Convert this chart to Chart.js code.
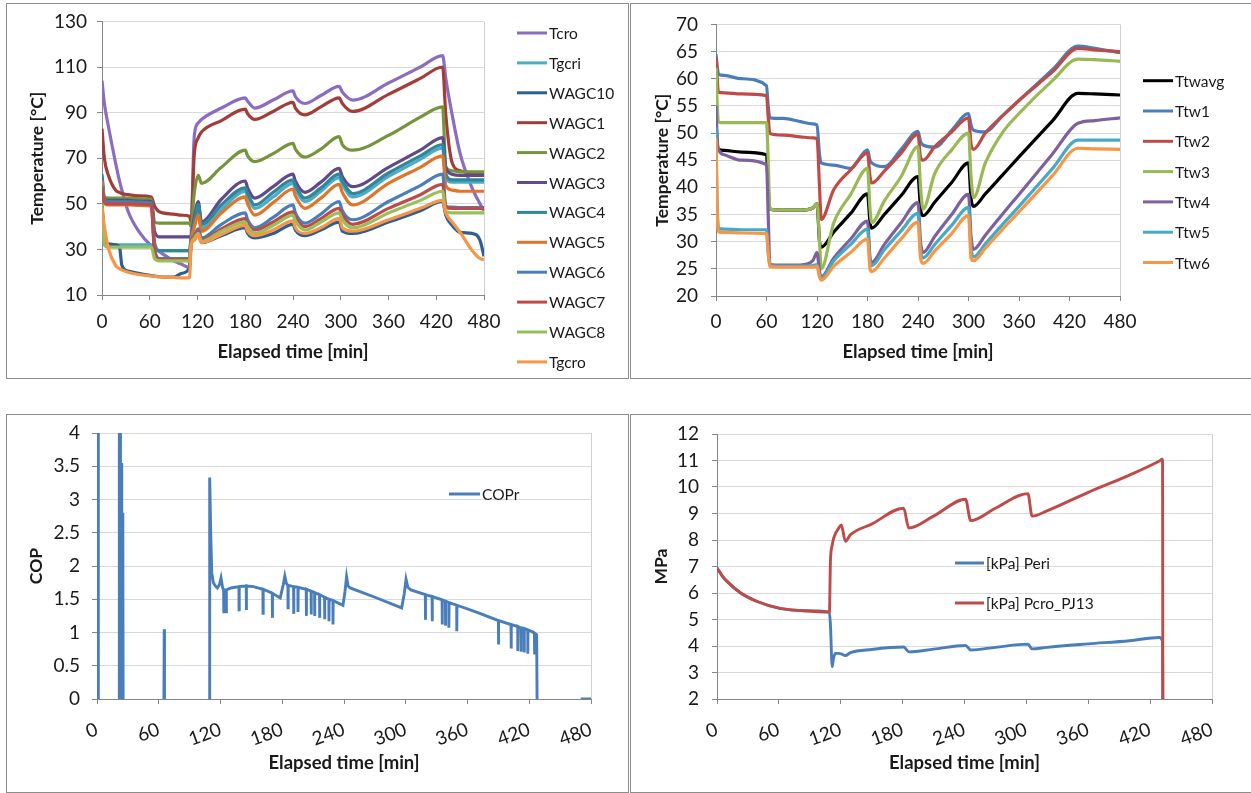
<!DOCTYPE html>
<html>
<head>
<meta charset="utf-8">
<script src="https://cdn.jsdelivr.net/npm/chart.js@4.4.0/dist/chart.umd.min.js"></script>
<style>
  body { margin: 0; background: #fff; }
  #page { position: relative; width: 1251px; height: 793px; overflow: hidden; background: #fff; }
  canvas { position: absolute; }
  .box { position: absolute; border: 1px solid #8c8c8c; box-sizing: border-box; }
</style>
</head>
<body>
<div id="page">
  <canvas id="c1" width="628" height="380" style="left:0;top:0"></canvas>
  <canvas id="c2" width="622" height="380" style="left:629px;top:0"></canvas>
  <canvas id="c3" width="628" height="388" style="left:0;top:405px"></canvas>
  <canvas id="c4" width="622" height="388" style="left:629px;top:405px"></canvas>
  <div class="box" style="left:6px;top:3px;width:623px;height:376px"></div>
  <div class="box" style="left:630px;top:3px;width:700px;height:376px"></div>
  <div class="box" style="left:6px;top:414px;width:623px;height:379px"></div>
  <div class="box" style="left:630px;top:414px;width:700px;height:379px"></div>
</div>
<script>
// ---- top left: gas cooler temperatures ----
const time1 = [0, 3, 8, 17, 22, 25, 33, 46, 62, 66, 72, 90, 100, 110, 112, 116, 121, 125, 150, 180, 183, 192, 215, 240, 243, 255, 275, 298, 302, 315, 360, 400, 428, 432, 440, 450, 465, 475, 480];
const names1 = ['Tcro', 'Tgcri', 'WAGC10', 'WAGC1', 'WAGC2', 'WAGC3', 'WAGC4', 'WAGC5', 'WAGC6', 'WAGC7', 'WAGC8', 'Tgcro'];
const colors1 = ['#8B6DBF', '#4BACC6', '#2E5E92', '#A33D3A', '#77933C', '#604A8C', '#31869B', '#E0752A', '#4A7EBB', '#BE4B48', '#98C05A', '#F79646'];
const tcro = [104, 94, 84, 68, 60, 56, 46.5, 38, 31.5, 30.5, 29, 25, 23.5, 22, 35, 80, 85.5, 87, 92, 96.5, 95, 92, 95.5, 99.5, 97, 94, 97.5, 101.5, 99, 95.5, 103, 110, 115, 105, 89, 72, 57, 50, 47];
const tgcri = [52, 33, 32, 32, 32, 32, 32, 32, 32, 29.5, 29.5, 29.5, 29.5, 29.5, 35, 40, 47, 39.5, 47.5, 55.5, 53, 48, 53, 59, 56.5, 51, 55.5, 61.5, 58.5, 53, 62, 69.5, 74.5, 61, 59.5, 59.5, 59.5, 59.5, 59.5];
const wagc10 = [50, 34, 32.5, 32, 31, 23, 20.5, 19.5, 18.5, 18.3, 18, 17.8, 19.5, 22, 33, 35, 37, 33, 36, 39.5, 37, 35, 37, 41, 38.5, 36, 38.5, 42, 38, 37, 42, 47, 51, 45, 40.5, 37.5, 37, 34, 27];
const wagc1 = [83, 70, 62.5, 56, 55, 54.5, 54, 53.5, 53, 49, 46.5, 45.5, 45, 44.5, 42, 72, 79, 81.5, 86.5, 91.5, 89.5, 87, 90.5, 94.5, 92, 89, 92.5, 96.5, 94, 90.5, 98, 105, 110, 89, 68, 64.5, 63.5, 63, 63];
const wagc2 = [62, 53, 52.5, 52.5, 52.5, 52.5, 52.5, 52.3, 52, 42, 41.5, 41.5, 41.5, 41.5, 40, 55, 62.5, 59, 66, 73.5, 71, 68.5, 72, 76.5, 74, 70.5, 74, 79.5, 76, 73.5, 80, 88, 92.5, 66, 64.5, 64, 64, 64, 64];
const wagc3 = [60, 52, 51.5, 51.5, 51.5, 51.5, 51.5, 51.2, 51, 38, 35.5, 35.5, 35.5, 35.5, 36, 44, 51, 42, 52, 60, 57, 52.5, 57.5, 63, 60, 55, 59.5, 65.5, 62, 57.5, 66, 73.5, 79, 66, 63, 62.5, 62.5, 62.5, 62.5];
const wagc4 = [63, 52, 51, 51, 51, 51, 51, 50.8, 50.5, 33, 29.5, 29.5, 29.5, 29.5, 35, 42, 49.5, 41, 49.5, 57, 54.5, 49.5, 55, 60.5, 58, 52.5, 57, 63, 60, 54.5, 63.5, 71, 76, 63, 60.5, 60.5, 60.5, 60.5, 60.5];
const wagc5 = [60, 50, 49.5, 49.5, 49.5, 49.5, 49.5, 49.3, 49, 30, 26, 26, 26, 26, 34, 40, 45, 38, 46, 53, 50, 45, 50.5, 56.5, 53.5, 48, 52.5, 58.5, 55, 49.5, 59, 66, 71, 58, 56, 55.5, 55.5, 55.5, 55.5];
const wagc6 = [58, 51, 50.5, 50.5, 50.5, 50.5, 50.5, 50.3, 50, 30, 26, 26, 26, 26, 33, 36, 39, 35, 41, 46, 43, 39.5, 44, 49.5, 46, 41.5, 45.5, 51, 47, 43, 51, 58, 63, 49, 48.5, 48.3, 48.3, 48.3, 48.3];
const wagc7 = [57, 50.5, 50, 50, 50, 50, 50, 49.8, 49.5, 29, 25.5, 25.5, 25.5, 25.5, 33, 35.5, 38, 34, 39, 43.5, 41, 38.5, 42, 46.5, 44, 40, 43.5, 48, 45, 41, 48, 54, 58.5, 48.5, 48, 48, 48, 48, 48];
const wagc8 = [50, 32, 31, 31, 31, 31, 31, 31, 31, 26, 25, 25, 25, 25, 32, 35, 37, 33.5, 38, 42, 40, 37, 40.5, 45, 42.5, 38.5, 42, 46, 43, 39.5, 46, 51.5, 55.5, 46.5, 46, 46, 46, 46, 46];
const tgcro = [48, 40, 30.5, 23, 21.5, 21, 20, 19, 18.3, 18.2, 18, 17.7, 17.5, 17.5, 32, 34, 36.5, 33, 36.5, 40.5, 38, 36, 38.5, 42.5, 39.5, 37, 39.5, 43.5, 39.5, 38, 43, 48, 51.5, 46, 42, 37.5, 29.5, 26, 25.5];

// ---- top right: water temperatures ----
const time2 = [0, 1, 3, 10, 30, 60, 62, 64, 80, 100, 115, 120, 123, 125, 140, 160, 180, 183, 185, 200, 220, 240, 243, 246, 260, 280, 300, 303, 306, 320, 340, 360, 400, 430, 450, 480];
const names2 = ['Ttwavg', 'Ttw1', 'Ttw2', 'Ttw3', 'Ttw4', 'Ttw5', 'Ttw6'];
const colors2 = ['#000000', '#4A7EBB', '#BE4B48', '#98B954', '#7D60A0', '#46AAC5', '#F79646'];
const ttwavg = [55, 49, 47, 46.8, 46.5, 46, 40, 36, 35.8, 35.8, 36.2, 37, 30, 29, 31.8, 35.2, 38.8, 33.5, 32.5, 35, 38.5, 42, 36, 34.8, 37.3, 40.9, 44.5, 38, 36.5, 38.8, 42.2, 45.6, 52.3, 57.3, 57.2, 57];
const ttw1 = [64.5, 63, 60.8, 60.6, 60, 58.7, 55, 52.8, 52.7, 52.1, 51.7, 51.5, 46, 44.5, 44.1, 43.5, 46.9, 45, 44.5, 43.8, 47, 50.3, 48.5, 47.8, 47.4, 50.5, 53.6, 51.5, 50.5, 50.2, 53.1, 56, 61.7, 66, 65.6, 64.8];
const ttw2 = [64, 61, 57.5, 57.4, 57.2, 56.9, 53, 49.9, 49.6, 49.3, 49.1, 49, 40, 34.1, 39.6, 43.2, 46.3, 42, 40.8, 43, 46.3, 49.8, 45.5, 45, 47.5, 50.2, 52.8, 48, 47, 50, 53.1, 56, 61.3, 65.6, 65.3, 65];
const ttw3 = [62, 57, 52, 51.9, 51.9, 51.9, 45, 36, 35.8, 35.8, 36.2, 37, 30, 25, 33.5, 38.7, 43.5, 36, 33.5, 37.5, 42, 47.5, 40, 36, 42.6, 46.9, 50, 42, 38.1, 44.5, 50, 53.6, 59.7, 63.6, 63.5, 63.2];
const ttw4 = [55, 50, 47, 46, 45, 44.2, 35, 25.8, 25.7, 25.7, 26.5, 28, 24.5, 23.5, 27, 30.5, 33.8, 27, 26.2, 29.5, 33.5, 37.2, 30, 28, 31, 35, 38.7, 31, 28.6, 31.2, 35, 38.7, 46.2, 51.8, 52.3, 52.8];
const ttw5 = [51, 40, 32.4, 32.3, 32.2, 32.2, 28, 25.6, 25.5, 25.5, 25.6, 25.8, 24, 23.3, 26.5, 29.5, 32.3, 26.5, 25.6, 28.5, 32, 35.2, 28.5, 27, 29.5, 33, 36.3, 29, 27.2, 29.6, 33.1, 36.5, 43.5, 48.7, 48.7, 48.7];
const ttw6 = [49, 38, 31.8, 31.7, 31.6, 31.5, 28, 25.4, 25.3, 25.3, 25.3, 25.5, 23.5, 22.9, 25.5, 28, 30.5, 25, 24.5, 27, 30.5, 33.6, 27, 26, 28.3, 31.5, 34.8, 27, 26.5, 28.8, 32.2, 35.5, 42.2, 47.2, 47.1, 47];

// ---- bottom left: COP (null = no value) ----
const copTime = [1.0, 1.3, 1.6, 21.5, 21.7, 22.6, 22.8, 23.7, 23.9, 24.2, 24.9, 25.1, 25.4, 25.6, 65.0, 65.3, 65.6, 65.8,
  109.0, 109.5, 110.5, 111.5, 113, 115, 117, 119, 120.5, 122, 123, 123.1, 123.3, 125.5, 125.6, 125.8, 130,
  137.9, 138, 138.2, 145, 145.1, 145.3, 152, 161.2, 161.3, 161.5, 170.3, 170.4, 170.6, 178, 181, 182.5, 184,
  185.5, 185.6, 185.8, 191, 191.1, 191.3, 195.2, 195.3, 195.5, 203.3, 203.4, 203.6, 208, 208.1, 208.3,
  211.4, 211.5, 211.7, 216.2, 216.3, 216.5, 221.1, 221.2, 221.4, 225.3, 225.4, 225.6, 229.2, 229.3, 229.5,
  239, 241, 242.5, 244, 246, 270, 296, 298.5, 300.3, 302, 305, 319, 319.1, 319.3, 325.6, 325.7, 325.9,
  335.3, 335.4, 335.6, 338.5, 338.6, 338.8, 341.8, 341.9, 342.1, 349.5, 349.6, 349.8, 370, 390, 390.1, 390.3,
  402.3, 402.4, 402.6, 408.8, 408.9, 409.1, 412, 412.1, 412.3, 415, 415.1, 415.3, 418.5, 418.6, 418.8,
  422, 425, 425.1, 425.3, 427, 427.1, 427.3, 427.6, 428, 470, 480];
const copValue = [0, 4.3, null, 0, 4.3, 4.3, 0, 0, 3.55, 0, 0, 2.8, 0, null, 0, 1.05, 0, null,
  0, 3.33, 2.5, 1.9, 1.75, 1.7, 1.67, 1.72, 1.82, 1.68, 1.64, 1.29, 1.64, 1.64, 1.29, 1.64, 1.67,
  1.69, 1.34, 1.69, 1.7, 1.34, 1.7, 1.69, 1.65, 1.29, 1.65, 1.59, 1.22, 1.59, 1.52, 1.72, 1.85, 1.74,
  1.71, 1.37, 1.71, 1.69, 1.28, 1.69, 1.68, 1.31, 1.68, 1.65, 1.25, 1.65, 1.62, 1.27, 1.62,
  1.6, 1.25, 1.6, 1.57, 1.22, 1.57, 1.53, 1.2, 1.53, 1.5, 1.17, 1.5, 1.48, 1.12, 1.48,
  1.41, 1.62, 1.84, 1.7, 1.67, 1.53, 1.37, 1.58, 1.8, 1.68, 1.64, 1.57, 1.19, 1.57, 1.54, 1.17, 1.54,
  1.49, 1.12, 1.49, 1.47, 1.1, 1.47, 1.45, 1.07, 1.45, 1.41, 1.02, 1.41, 1.3, 1.18, 0.82, 1.18,
  1.12, 0.76, 1.12, 1.09, 0.72, 1.09, 1.07, 0.71, 1.07, 1.06, 0.7, 1.06, 1.04, 0.68, 1.04,
  1.02, 0.99, 0.67, 0.99, 0.97, 0.67, 0.97, 0, null, 0, 0];

// ---- bottom right: pressures ----
const time4 = [0, 5, 10, 23, 39, 60, 84, 109, 110, 111.7, 113, 115, 118, 120.5, 124.5, 129.5, 150, 181, 186, 210, 241, 246, 270, 301.5, 305.5, 320, 360, 400, 429, 432, 432.5, 480];
const names4 = ['[kPa] Peri', '[kPa] Pcro_PJ13'];
const colors4 = ['#4A7EBB', '#BE4B48'];
const peri = [6.95, 6.65, 6.43, 6.0, 5.68, 5.43, 5.33, 5.28, 4.8, 3.22, 3.55, 3.72, 3.72, 3.7, 3.64, 3.75, 3.87, 3.96, 3.78, 3.88, 4.02, 3.85, 3.95, 4.07, 3.89, 3.95, 4.08, 4.2, 4.32, 4.18, 0, 0];
const pcro = [6.95, 6.65, 6.43, 6.0, 5.68, 5.43, 5.33, 5.28, 7.2, 7.8, 8.05, 8.25, 8.45, 8.57, 7.95, 8.2, 8.6, 9.2, 8.45, 8.9, 9.54, 8.73, 9.2, 9.75, 8.9, 9.1, 9.8, 10.45, 10.98, 11.05, 0, 0];

const FONT = 'Lato, "Liberation Sans", sans-serif';
Chart.defaults.font.family = FONT;
Chart.defaults.font.size = 18;
Chart.defaults.color = '#1a1a1a';
Chart.defaults.animation = false;

// right edge of the plot area (Excel draws a light frame)
const plotFrame = {
  id: 'plotFrame',
  beforeDatasetsDraw(chart) {
    const a = chart.chartArea, ctx = chart.ctx;
    ctx.save();
    ctx.strokeStyle = '#D0D0D0';
    ctx.lineWidth = 1;
    ctx.beginPath();
    ctx.moveTo(Math.round(a.right) + 0.5, a.top);
    ctx.lineTo(Math.round(a.right) + 0.5, a.bottom);
    ctx.stroke();
    ctx.restore();
  }
};

// excel-like legend: short line + label, one under the other
const lineLegend = {
  id: 'lineLegend',
  afterDraw(chart, args, opts) {
    const ctx = chart.ctx;
    ctx.save();
    ctx.font = '15.5px ' + FONT;
    ctx.textBaseline = 'middle';
    chart.data.datasets.forEach((ds, i) => {
      const y = opts.y + i * opts.step;
      ctx.strokeStyle = ds.borderColor;
      ctx.lineWidth = 3;
      ctx.beginPath();
      ctx.moveTo(opts.x, y);
      ctx.lineTo(opts.x + opts.len, y);
      ctx.stroke();
      ctx.fillStyle = '#1a1a1a';
      ctx.fillText(ds.label, opts.x + opts.len + 2, y + 1);
    });
    ctx.restore();
  }
};

function pts(xs, ys) {
  return xs.map((x, i) => ({ x: x, y: ys[i] }));
}

function lineSets(xs, names, values, colors, smooth, width) {
  return names.map((name, i) => ({
    label: name,
    data: pts(xs, values[i]),
    borderColor: colors[i],
    backgroundColor: colors[i],
    borderWidth: width,
    pointRadius: 0,
    cubicInterpolationMode: smooth ? 'monotone' : 'default',
    tension: 0,
    order: names.length - i
  }));
}

function axes(o) {
  return {
    x: {
      type: 'linear', min: 0, max: 480,
      afterFit: s => { s.height = o.xh; },
      ticks: { stepSize: 60, padding: o.xpad, minRotation: o.rot, maxRotation: o.rot, autoSkip: false,
        font: { size: 19 }, callback: v => String(v) },
      grid: { drawOnChartArea: false, color: '#868686', tickLength: 5 },
      border: { color: '#868686' },
      title: { display: true, text: 'Elapsed time [min]', font: { weight: 'bold', size: 18.5 }, padding: { top: 0, bottom: o.xtitle } }
    },
    y: {
      min: o.min, max: o.max,
      afterFit: s => { s.width = o.yw; },
      ticks: { stepSize: o.step, padding: o.ypad, autoSkip: false, font: { size: 19 }, callback: v => String(v) },
      grid: { color: '#D9D9D9', tickColor: '#868686', tickLength: 5 },
      border: { color: '#868686' },
      title: { display: true, text: o.ytitle, font: { weight: 'bold', size: 17.5 }, padding: { top: o.ytp, bottom: 0 } }
    }
  };
}

function makeChart(id, datasets, scaleOpts, pad, legendPos) {
  return new Chart(document.getElementById(id), {
    type: 'line',
    data: { datasets: datasets },
    options: {
      responsive: false,
      layout: { padding: pad },
      plugins: { legend: { display: false }, tooltip: { enabled: false }, lineLegend: legendPos },
      scales: axes(scaleOpts)
    },
    plugins: [plotFrame, lineLegend]
  });
}

makeChart('c1',
  lineSets(time1, names1, [tcro, tgcri, wagc10, wagc1, wagc2, wagc3, wagc4, wagc5, wagc6, wagc7, wagc8, tgcro], colors1, true, 3.2),
  { min: 10, max: 130, step: 20, yw: 102, xh: 85, ypad: 10, xpad: 10, rot: 0, xtitle: 17, ytp: 27, ytitle: 'Temperature [°C]' },
  { left: 0, right: 144, top: 21, bottom: 0 },
  { x: 517, len: 30, y: 33, step: 29.9 });

makeChart('c2',
  lineSets(time2, names2, [ttwavg, ttw1, ttw2, ttw3, ttw4, ttw5, ttw6], colors2, true, 3.2),
  { min: 20, max: 70, step: 5, yw: 87, xh: 84, ypad: 13, xpad: 9, rot: 0, xtitle: 17, ytp: 23, ytitle: 'Temperature [°C]' },
  { left: 0, right: 131, top: 22, bottom: 0 },
  { x: 514, len: 30, y: 80.7, step: 30.3 });

makeChart('c3',
  lineSets(copTime, ['COPr'], [copValue], ['#4A7EBB'], false, 2.9),
  { min: 0, max: 4, step: 0.5, yw: 97, xh: 94, ypad: 12, xpad: 14, rot: 20, xtitle: 19, ytp: 26, ytitle: 'COP' },
  { left: 0, right: 37, top: 28, bottom: 0 },
  { x: 449, len: 31, y: 89, step: 30 });

makeChart('c4',
  lineSets(time4, names4, [peri, pcro], colors4, true, 2.9),
  { min: 2, max: 12, step: 1, yw: 88, xh: 94, ypad: 13, xpad: 14, rot: 20, xtitle: 19, ytp: 22, ytitle: 'MPa' },
  { left: 0, right: 39, top: 29, bottom: 0 },
  { x: 326, len: 29, y: 158, step: 40 });
</script>
</body>
</html>
